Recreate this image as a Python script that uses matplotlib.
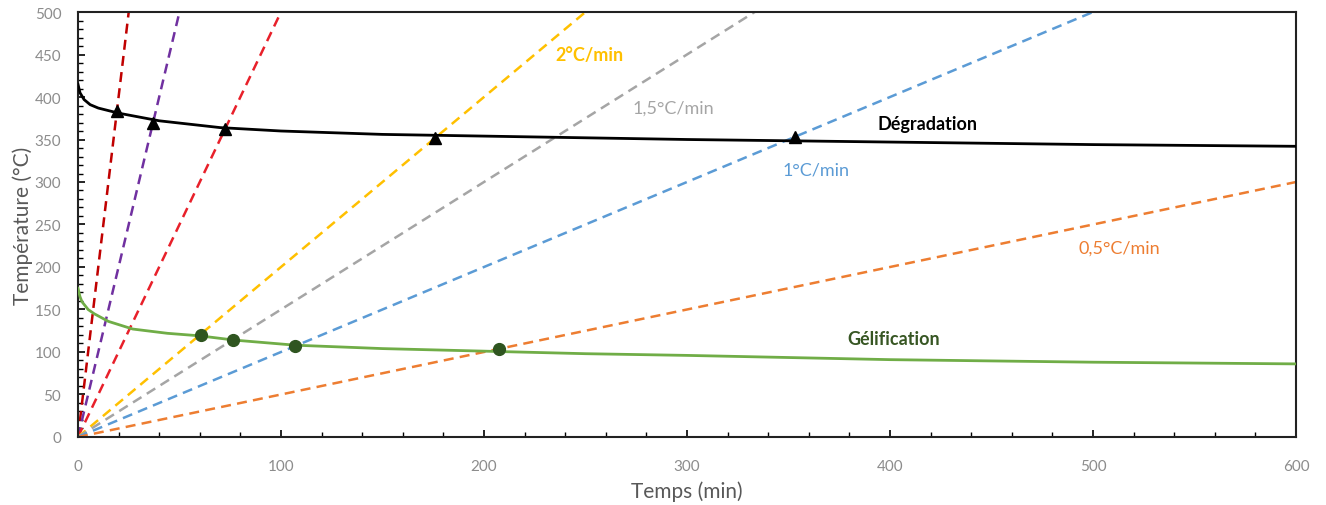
import numpy as np
import matplotlib
matplotlib.use('Agg')
from matplotlib import pyplot as plt
from matplotlib.ticker import MultipleLocator

plt.rcParams['font.family'] = ['Lato', 'DejaVu Sans']

# heating rates (°C/min), colours and labels
rates = [20, 10, 5, 2, 1.5, 1, 0.5]
rate_colors = ['#C00000', '#7030A0', '#E8202A', '#FFC000', '#A5A5A5', '#5B9BD5', '#ED7D31']

# Degradation curve
degr_t = [0, 1, 3, 6, 10, 20, 40, 70, 100, 150, 200, 300, 400, 500, 600]
degr_T = [415, 405, 397, 391, 387, 381, 372, 364, 360, 356, 354, 350, 347, 344, 342]

# Gelification curve
gel_t = [0, 1, 2, 5, 8, 15, 27, 44, 60, 77, 107, 150, 200, 250, 300, 400, 500, 600]
gel_T = [175, 165, 159, 150, 145, 136, 127, 122, 119, 114, 108, 104, 101, 98, 96, 91, 88, 86]

# intersections
degr_pts_t = [19.2, 37, 72.5, 176, 353]
degr_pts_T = [384, 370, 362, 352, 353]
gel_pts_t = [60.5, 76.5, 107, 207.5]
gel_pts_T = [120, 114, 107, 103]

# text labels
labels = ['2°C/min', '1,5°C/min', '1°C/min', '0,5°C/min', 'Dégradation', 'Gélification']
label_t = [235, 273, 347, 493, 394, 379]
label_T = [450, 388, 315, 223, 369, 116]
label_colors = ['#FFC000', '#A5A5A5', '#5B9BD5', '#ED7D31', '#000000', '#375623']

fig = plt.figure(figsize=(13.26, 5.06), dpi=100)
ax = fig.add_axes([0.0588, 0.1344, 0.9186, 0.8399])

t_line = np.array([0, 600])
for r, c in zip(rates, rate_colors):
    ax.plot(t_line, r*t_line, color=c, lw=1.8, linestyle=(0, (4, 2.5)), zorder=2)

ax.plot(degr_t, degr_T, color='black', lw=2, zorder=3)
ax.plot(gel_t, gel_T, color='#70AD47', lw=2, zorder=3)
ax.plot(degr_pts_t, degr_pts_T, linestyle='none', marker='^', ms=8, color='black', zorder=4)
ax.plot(gel_pts_t, gel_pts_T, linestyle='none', marker='o', ms=8.5, color='#2F5520', zorder=4)

for txt, x, y, c in zip(labels, label_t, label_T, label_colors):
    weight = 'bold' if txt in ('Dégradation', 'Gélification', '2°C/min') else 'normal'
    ax.text(x, y, txt, color=c, fontsize=13, ha='left', va='center', fontweight=weight)

ax.set_xlim(0, 600)
ax.set_ylim(0, 500)
ax.xaxis.set_major_locator(MultipleLocator(100))
ax.xaxis.set_minor_locator(MultipleLocator(20))
ax.yaxis.set_major_locator(MultipleLocator(50))
ax.yaxis.set_minor_locator(MultipleLocator(10))
ax.tick_params(which='both', direction='in', color='black', labelcolor='#8C8C8C', labelsize=11)
ax.tick_params(which='major', length=5, width=1.2)
ax.tick_params(which='minor', length=3.5, width=1)
ax.tick_params(axis='x', pad=16)
ax.tick_params(axis='y', pad=12)
for s in ax.spines.values():
    s.set_linewidth(1.5)
    s.set_color('#222222')

ax.set_xlabel('Temps (min)', fontsize=15, color='#595959', labelpad=5)
ax.set_ylabel('Température (°C)', fontsize=15, color='#595959', labelpad=1)

fig.savefig('out.png', dpi=100)
